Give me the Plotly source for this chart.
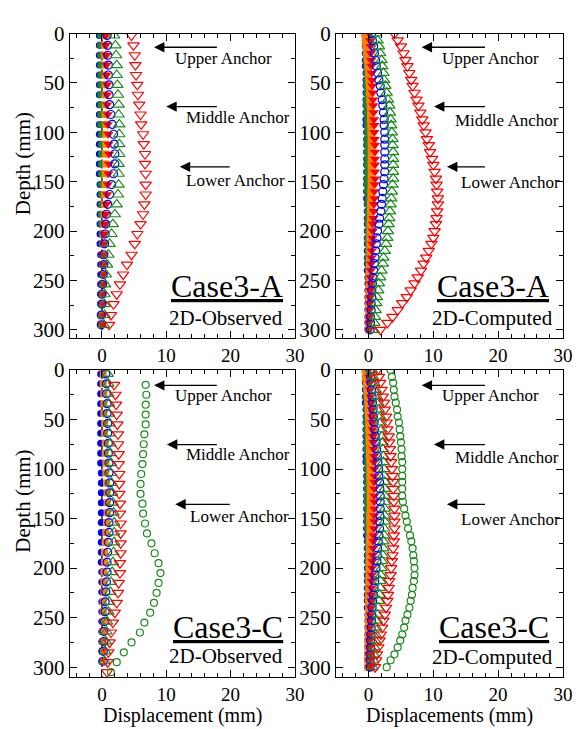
import plotly.graph_objects as go

# ---------------- data ----------------
depth_obs_A = [2, 12, 22, 32, 42, 52, 62, 72, 82, 92, 102, 112, 122, 132, 142,
               153, 163, 173, 183, 193, 203, 213, 224, 234, 244, 254, 264, 274, 285, 295]
depth_obs_C0 = [4, 14, 24, 34, 44, 54, 64, 74, 84, 94, 104, 114, 124, 134, 144,
                154, 164, 174, 184, 194, 204, 214, 224, 234, 244, 254, 264, 274, 284, 294]
depth_obs_C1 = [15, 25, 35, 45, 55, 65, 75, 85, 95, 105, 115, 125, 135, 145, 155,
                165, 175, 185, 195, 205, 215, 225, 235, 245, 255, 265, 275, 285, 295, 305]
depth_comp = [0, 7, 13, 20, 27, 33, 40, 47, 53, 60, 67, 73, 80, 87, 93, 100, 107, 113,
              120, 127, 133, 140, 147, 153, 160, 167, 173, 180, 187, 193, 200, 207, 213,
              220, 227, 233, 240, 247, 253, 260, 267, 273, 280, 287, 293, 300]

# Case3-A observed
A_obs_blue_fill = [-0.4, -0.4, -0.4, -0.4, -0.4, -0.4, -0.4, -0.4, -0.4, -0.4, -0.4, -0.4, -0.4, -0.4, -0.4,
                   -0.3, -0.3, -0.3, -0.3, -0.3, -0.3, -0.3, -0.2, -0.2, -0.2, -0.2, -0.2, -0.2, -0.2, -0.2]
A_obs_green_fill = [-0.2, -0.2, -0.2, -0.2, -0.2, -0.2, -0.2, -0.2, -0.2, -0.2, -0.1, -0.1, -0.1, -0.1, -0.1,
                    -0.1, -0.1, -0.1, -0.1, -0.1, 0.0, 0.0, 0.0, 0.0, 0.0, 0.0, 0.0, 0.0, 0.0, 0.0]
A_obs_orange = [0.4, 0.4, 0.4, 0.5, 0.5, 0.5, 0.5, 0.5, 0.5, 0.6, 0.6, 0.6, 0.6, 0.6, 0.5,
                0.5, 0.4, 0.4, 0.3, 0.3, 0.2, 0.2, 0.2, 0.1, 0.1, 0.1, 0.0, 0.0, 0.0, 0.0]
A_obs_red_fill = [0.6, 0.6, 0.7, 0.7, 0.7, 0.8, 0.8, 0.8, 0.9, 0.9, 1.0, 1.0, 1.1, 1.1, 1.0,
                  0.9, 0.8, 0.7, 0.6, 0.5, 0.4, 0.4, 0.3, 0.3, 0.2, 0.2, 0.1, 0.1, 0.1, 0.0]
A_obs_blue_open = [0.8, 0.9, 0.9, 1.0, 1.0, 1.1, 1.1, 1.2, 1.4, 1.6, 1.8, 1.9, 2.0, 2.0, 1.8,
                   1.5, 1.2, 0.9, 0.7, 0.6, 0.5, 0.4, 0.3, 0.3, 0.2, 0.1, 0.0, 0.0, -0.1, -0.1]
A_obs_green_tri = [1.9, 2.1, 2.2, 2.3, 2.3, 2.4, 2.5, 2.6, 2.6, 2.7, 2.7, 2.7, 2.7, 2.6, 2.6,
                   2.6, 2.5, 2.3, 2.0, 1.7, 1.5, 1.2, 1.0, 0.8, 0.6, 0.5, 0.4, 0.4, 0.4, 0.3]
A_obs_red_tri = [4.6, 4.9, 5.1, 5.2, 5.3, 5.5, 5.6, 5.8, 6.0, 6.1, 6.4, 6.5, 6.7, 6.7, 6.8,
                 6.8, 6.8, 6.6, 6.4, 6.0, 5.5, 5.1, 4.6, 3.9, 3.3, 2.8, 2.3, 1.8, 1.4, 1.1]

# Case3-A computed
A_comp_blue_fill = [-0.5, -0.5, -0.5, -0.5, -0.5, -0.5, -0.4, -0.4, -0.4, -0.4, -0.4, -0.4, -0.4, -0.4, -0.4, -0.3,
                    -0.3, -0.3, -0.3, -0.3, -0.3, -0.3, -0.3, -0.3, -0.3, -0.3, -0.2, -0.2, -0.2, -0.2, -0.2,
                    -0.2, -0.2, -0.2, -0.2, -0.2, -0.2, -0.1, -0.1, -0.1, -0.1, -0.1, -0.1, -0.1, -0.1, -0.1]
A_comp_green_fill = [-0.4, -0.4, -0.4, -0.4, -0.4, -0.3, -0.3, -0.3, -0.3, -0.3, -0.3, -0.3, -0.3, -0.2, -0.2, -0.2,
                     -0.2, -0.2, -0.2, -0.2, -0.2, -0.2, -0.2, -0.2, -0.2, -0.1, -0.1, -0.1, -0.1, -0.1, -0.1,
                     -0.1, -0.1, -0.1, -0.1, -0.1, 0.0, 0.0, 0.0, 0.0, 0.0, 0.0, 0.0, 0.0, 0.0, 0.0]
A_comp_orange = [-0.6, -0.5, -0.4, -0.3, -0.2, -0.1, 0.0, 0.05, 0.1, 0.15, 0.2, 0.25, 0.3, 0.3, 0.35, 0.35,
                 0.4, 0.4, 0.4, 0.4, 0.4, 0.4, 0.4, 0.4, 0.35, 0.35, 0.3, 0.3, 0.3, 0.25, 0.25,
                 0.2, 0.2, 0.2, 0.15, 0.15, 0.1, 0.1, 0.1, 0.05, 0.05, 0.0, 0.0, 0.0, 0.0, 0.0]
A_comp_red_fill = [0.2, 0.25, 0.3, 0.35, 0.4, 0.45, 0.5, 0.55, 0.6, 0.65, 0.7, 0.75, 0.8, 0.85, 0.9, 0.9,
                   0.95, 1.0, 1.0, 1.0, 1.0, 1.0, 1.0, 0.95, 0.9, 0.9, 0.85, 0.8, 0.75, 0.7, 0.65,
                   0.6, 0.55, 0.5, 0.45, 0.4, 0.35, 0.3, 0.3, 0.25, 0.2, 0.2, 0.15, 0.15, 0.1, 0.1]
A_comp_blue_open = [0.5, 0.6, 0.8, 0.9, 1.1, 1.2, 1.4, 1.6, 1.8, 1.9, 2.1, 2.2, 2.3, 2.4, 2.4, 2.5,
                    2.5, 2.5, 2.5, 2.5, 2.5, 2.5, 2.4, 2.3, 2.2, 2.1, 2.0, 1.9, 1.7, 1.6, 1.4,
                    1.3, 1.2, 1.1, 1.0, 0.9, 0.8, 0.7, 0.6, 0.5, 0.5, 0.4, 0.4, 0.3, 0.3, 0.25]
A_comp_green_tri = [1.2, 1.4, 1.6, 1.8, 2.0, 2.1, 2.3, 2.4, 2.6, 2.8, 3.0, 3.2, 3.3, 3.4, 3.5, 3.6,
                    3.7, 3.7, 3.8, 3.8, 3.8, 3.8, 3.8, 3.7, 3.6, 3.5, 3.4, 3.3, 3.2, 3.1, 3.0,
                    2.9, 2.7, 2.5, 2.3, 2.2, 2.0, 1.8, 1.6, 1.5, 1.3, 1.2, 1.1, 1.0, 0.9, 0.8]
A_comp_red_tri = [4.0, 4.5, 5.0, 5.4, 5.7, 6.0, 6.3, 6.6, 6.8, 7.1, 7.4, 7.7, 8.0, 8.3, 8.5, 8.8,
                  9.0, 9.3, 9.5, 9.8, 10.0, 10.2, 10.4, 10.5, 10.6, 10.7, 10.7, 10.6, 10.5, 10.4, 10.2,
                  10.0, 9.7, 9.3, 8.9, 8.5, 8.1, 7.6, 7.1, 6.5, 5.9, 5.2, 4.5, 3.7, 2.9, 1.8]

# Case3-C observed
C_obs_purple = [-0.2, -0.2, -0.2, -0.2, -0.2, -0.2, -0.2, -0.2, -0.2, -0.2, -0.2, -0.2, -0.2, -0.2, -0.2,
                -0.2, -0.2, -0.2, -0.2, -0.2, -0.2, -0.2, -0.2, -0.2, -0.2, -0.2, -0.2, -0.2, -0.2, -0.2]
C_obs_blue_fill = [-0.2, -0.2, -0.2, -0.2, -0.2, -0.2, -0.2, -0.2, -0.2, -0.2, -0.1, -0.1, -0.1, -0.1, -0.1,
                   -0.1, -0.1, -0.1, -0.1, -0.1, 0.0, 0.0, 0.0, 0.0, 0.0, 0.0, 0.0, 0.0, 0.0, 0.0]
C_obs_orange = [0.2, 0.2, 0.3, 0.3, 0.3, 0.4, 0.4, 0.5, 0.5, 0.6, 0.6, 0.7, 0.8, 0.8, 0.8,
                0.7, 0.6, 0.5, 0.4, 0.4, 0.3, 0.3, 0.3, 0.2, 0.2, 0.2, 0.1, 0.1, 0.1, 0.1]
C_obs_blue_open = [0.6, 0.7, 0.7, 0.8, 0.8, 0.9, 0.9, 1.0, 1.0, 1.1, 1.1, 1.2, 1.2, 1.2, 1.2,
                   1.1, 1.1, 1.0, 0.9, 0.8, 0.8, 0.7, 0.6, 0.5, 0.5, 0.4, 0.3, 0.3, 0.2, 0.2]
C_obs_green_tri = [0.9, 1.0, 1.0, 1.1, 1.1, 1.2, 1.2, 1.3, 1.3, 1.4, 1.4, 1.5, 1.6, 1.7, 1.8,
                   1.9, 1.9, 1.9, 1.8, 1.7, 1.6, 1.4, 1.3, 1.1, 1.0, 0.8, 0.7, 0.6, 0.5, 0.4]
C_obs_red_tri = [1.9, 2.1, 2.2, 2.3, 2.4, 2.5, 2.5, 2.6, 2.6, 2.7, 2.7, 2.7, 2.8, 2.8, 2.9,
                 2.9, 2.9, 2.9, 2.8, 2.8, 2.6, 2.5, 2.3, 2.0, 1.7, 1.4, 1.2, 1.0, 0.9, 0.8]
C_obs_green_circ = [6.8, 6.9, 6.8, 6.8, 6.8, 6.6, 6.5, 6.4, 6.3, 6.1, 6.0, 6.0, 6.3, 6.4, 6.7,
                    7.0, 7.7, 8.2, 8.8, 9.1, 8.8, 8.5, 8.1, 7.5, 6.6, 5.9, 4.6, 3.4, 2.3, 1.4]

# Case3-C computed
C_comp_blue_fill = [-0.5, -0.5, -0.5, -0.5, -0.5, -0.5, -0.4, -0.4, -0.4, -0.4, -0.4, -0.4, -0.4, -0.4, -0.4, -0.3,
                    -0.3, -0.3, -0.3, -0.3, -0.3, -0.3, -0.3, -0.3, -0.3, -0.3, -0.2, -0.2, -0.2, -0.2, -0.2,
                    -0.2, -0.2, -0.2, -0.2, -0.2, -0.2, -0.1, -0.1, -0.1, -0.1, -0.1, -0.1, -0.1, -0.1, -0.1]
C_comp_green_fill = [-0.4, -0.4, -0.4, -0.4, -0.4, -0.3, -0.3, -0.3, -0.3, -0.3, -0.3, -0.3, -0.3, -0.2, -0.2, -0.2,
                     -0.2, -0.2, -0.2, -0.2, -0.2, -0.2, -0.2, -0.2, -0.2, -0.1, -0.1, -0.1, -0.1, -0.1, -0.1,
                     -0.1, -0.1, -0.1, -0.1, -0.1, 0.0, 0.0, 0.0, 0.0, 0.0, 0.0, 0.0, 0.0, 0.0, 0.0]
C_comp_orange = [-0.55, -0.45, -0.35, -0.25, -0.15, -0.1, -0.05, 0.0, 0.05, 0.05, 0.1, 0.1, 0.15, 0.15, 0.2, 0.2,
                 0.2, 0.25, 0.25, 0.25, 0.25, 0.25, 0.2, 0.2, 0.2, 0.2, 0.15, 0.15, 0.15, 0.1, 0.1,
                 0.1, 0.05, 0.05, 0.05, 0.0, 0.0, 0.0, -0.05, -0.05, -0.05, -0.1, -0.1, -0.1, -0.1, -0.1]
C_comp_red_fill = [0.0, 0.1, 0.2, 0.25, 0.35, 0.45, 0.5, 0.55, 0.6, 0.65, 0.7, 0.75, 0.8, 0.85, 0.85, 0.9,
                   0.9, 0.9, 0.9, 0.9, 0.9, 0.9, 0.9, 0.9, 0.85, 0.8, 0.75, 0.7, 0.65, 0.6, 0.55,
                   0.5, 0.45, 0.45, 0.4, 0.4, 0.35, 0.3, 0.3, 0.25, 0.25, 0.2, 0.2, 0.15, 0.15, 0.15]
C_comp_blue_open = [0.25, 0.3, 0.4, 0.45, 0.55, 0.6, 0.7, 0.75, 0.85, 0.95, 1.05, 1.15, 1.25, 1.35, 1.45, 1.55,
                    1.6, 1.7, 1.75, 1.8, 1.8, 1.8, 1.75, 1.7, 1.7, 1.6, 1.5, 1.4, 1.35, 1.3, 1.15,
                    1.0, 0.95, 0.85, 0.75, 0.65, 0.55, 0.5, 0.45, 0.4, 0.35, 0.3, 0.3, 0.25, 0.25, 0.25]
C_comp_green_tri = [0.5, 0.7, 0.9, 1.1, 1.3, 1.5, 1.6, 1.8, 1.9, 2.0, 2.1, 2.2, 2.2, 2.3, 2.3, 2.4,
                    2.4, 2.5, 2.5, 2.5, 2.5, 2.5, 2.5, 2.5, 2.4, 2.4, 2.3, 2.3, 2.2, 2.1, 2.0,
                    1.9, 1.8, 1.8, 1.7, 1.6, 1.5, 1.4, 1.3, 1.2, 1.1, 1.0, 0.9, 0.8, 0.7, 0.6]
C_comp_red_tri = [1.4, 1.6, 1.8, 2.0, 2.2, 2.4, 2.5, 2.7, 2.8, 2.9, 3.1, 3.2, 3.3, 3.4, 3.5, 3.6,
                  3.7, 3.8, 3.8, 3.9, 3.9, 4.0, 4.0, 4.0, 4.0, 3.9, 3.9, 3.8, 3.7, 3.6, 3.5,
                  3.4, 3.2, 3.1, 3.0, 2.9, 2.7, 2.5, 2.3, 2.1, 1.9, 1.7, 1.5, 1.3, 1.2, 1.0]
C_comp_green_circ = [3.4, 3.6, 3.8, 3.9, 4.0, 4.2, 4.4, 4.5, 4.7, 4.8, 4.9, 5.0, 5.1, 5.1, 5.2, 5.2,
                     5.2, 5.2, 5.2, 5.2, 5.3, 5.5, 5.7, 5.9, 6.1, 6.4, 6.6, 6.8, 6.9, 7.0, 7.1,
                     7.1, 7.0, 6.8, 6.7, 6.5, 6.3, 6.0, 5.7, 5.5, 5.2, 4.9, 4.5, 4.0, 3.4, 2.8]

x_ticks = [0, 10, 20, 30]
y_ticks = [0, 50, 100, 150, 200, 250, 300]
anchor_labels = ["Upper Anchor", "Middle Anchor", "Lower Anchor"]
case_labels = ["Case3-A", "Case3-A", "Case3-C", "Case3-C"]
sub_labels = ["2D-Observed", "2D-Computed", "2D-Observed", "2D-Computed"]
x_titles = ["Displacement (mm)", "Displacements (mm)"]

# ---------------- styles ----------------
FONT = "Liberation Serif"
BLUE = "#0000FF"
GREEN = "#1A8A1A"
ORANGE = "#FF8000"
RED = "#FF0000"
PURPLE = "#A080D0"

STY = {
    "purple": dict(symbol="circle", size=5, color=PURPLE),
    "blue_fill": dict(symbol="circle", size=7, color=BLUE),
    "green_fill": dict(symbol="circle", size=7, color=GREEN),
    "orange": dict(symbol="square", size=7, color=ORANGE),
    "red_fill": dict(symbol="triangle-down", size=9, color=RED),
    "blue_open": dict(symbol="circle-open", size=8, color=BLUE, line=dict(width=1.2, color=BLUE)),
    "green_tri": dict(symbol="triangle-up-open", size=10, color=GREEN, line=dict(width=1.2, color=GREEN)),
    "red_tri": dict(symbol="triangle-down-open", size=10, color=RED, line=dict(width=1.2, color=RED)),
    "green_circ": dict(symbol="circle-open", size=7, color=GREEN, line=dict(width=1.2, color=GREEN)),
}

panels = [
    ("x", "y", [("blue_fill", A_obs_blue_fill, depth_obs_A), ("green_fill", A_obs_green_fill, depth_obs_A),
                ("orange", A_obs_orange, depth_obs_A), ("red_fill", A_obs_red_fill, depth_obs_A),
                ("blue_open", A_obs_blue_open, depth_obs_A), ("green_tri", A_obs_green_tri, depth_obs_A),
                ("red_tri", A_obs_red_tri, depth_obs_A)]),
    ("x2", "y2", [("blue_fill", A_comp_blue_fill, depth_comp), ("green_fill", A_comp_green_fill, depth_comp),
                  ("orange", A_comp_orange, depth_comp), ("red_fill", A_comp_red_fill, depth_comp),
                  ("blue_open", A_comp_blue_open, depth_comp), ("green_tri", A_comp_green_tri, depth_comp),
                  ("red_tri", A_comp_red_tri, depth_comp)]),
    ("x3", "y3", [("purple", C_obs_purple, depth_obs_C0), ("blue_fill", C_obs_blue_fill, depth_obs_C0),
                  ("orange", C_obs_orange, depth_obs_C0), ("blue_open", C_obs_blue_open, depth_obs_C0),
                  ("green_tri", C_obs_green_tri, depth_obs_C0), ("red_tri", C_obs_red_tri, depth_obs_C1),
                  ("green_circ", C_obs_green_circ, depth_obs_C1)]),
    ("x4", "y4", [("blue_fill", C_comp_blue_fill, depth_comp), ("green_fill", C_comp_green_fill, depth_comp),
                  ("orange", C_comp_orange, depth_comp), ("red_fill", C_comp_red_fill, depth_comp),
                  ("blue_open", C_comp_blue_open, depth_comp), ("green_tri", C_comp_green_tri, depth_comp),
                  ("red_tri", C_comp_red_tri, depth_comp), ("green_circ", C_comp_green_circ, depth_comp)]),
]

fig = go.Figure()
for xa, ya, series in panels:
    fig.add_trace(go.Scatter(x=[0, 0], y=[0, 310], mode="lines", xaxis=xa, yaxis=ya,
                             line=dict(color="black", width=1.3, dash="dash"), showlegend=False,
                             hoverinfo="skip"))
    for key, xs, ds in series:
        fig.add_trace(go.Scatter(x=xs, y=ds, mode="markers", xaxis=xa, yaxis=ya,
                                 marker=STY[key], showlegend=False))

# ---------------- axes ----------------
W, H = 585, 729
dom_x = [[71 / W, 300 / W], [342 / W, 572.7 / W]]
dom_y = [[1 - 333 / H, 1 - 22 / H], [1 - 680 / H, 1 - 366 / H]]
yranges = [[308, 0], [310, 0]]
TICKFONT = dict(family=FONT, size=19, color="black")


def xax(dom, anchor):
    return dict(domain=dom, anchor=anchor, range=[-5, 30], tickmode="array", tickvals=x_ticks,
                ticks="inside", ticklen=7, tickwidth=1, tickcolor="black",
                minor=dict(dtick=2, tick0=0, ticks="inside", ticklen=4, tickwidth=1, tickcolor="black"),
                showline=True, linecolor="black", linewidth=1.2, mirror="ticks",
                showgrid=False, zeroline=False, tickfont=TICKFONT)


def yax(dom, anchor, rng):
    return dict(domain=dom, anchor=anchor, range=rng, tickmode="array", tickvals=y_ticks,
                ticks="inside", ticklen=7, tickwidth=1, tickcolor="black",
                minor=dict(dtick=25, tick0=0, ticks="inside", ticklen=4, tickwidth=1, tickcolor="black"),
                showline=True, linecolor="black", linewidth=1.2, mirror="ticks",
                showgrid=False, zeroline=False, tickfont=dict(family=FONT, size=21, color="black"))


fig.update_layout(
    width=W, height=H, margin=dict(l=0, r=0, t=0, b=0),
    paper_bgcolor="white", plot_bgcolor="white", showlegend=False,
    font=dict(family=FONT, color="black"),
    xaxis=xax(dom_x[0], "y"), yaxis=yax(dom_y[0], "x", yranges[0]),
    xaxis2=xax(dom_x[1], "y2"), yaxis2=yax(dom_y[0], "x2", yranges[0]),
    xaxis3=xax(dom_x[0], "y3"), yaxis3=yax(dom_y[1], "x3", yranges[1]),
    xaxis4=xax(dom_x[1], "y4"), yaxis4=yax(dom_y[1], "x4", yranges[1]),
)

# ---------------- annotations ----------------
ann = []
for yc in [155, 500]:
    ann.append(dict(text="Depth (mm)", xref="paper", yref="paper", x=23 / W, y=1 - yc / H,
                    textangle=-90, showarrow=False, xanchor="center", yanchor="middle",
                    font=dict(family=FONT, size=21, color="black")))
for dx, title in zip(dom_x, x_titles):
    ann.append(dict(text=title, xref="paper", yref="paper", x=(dx[0] + dx[1]) / 2, y=1 - 719.5 / H,
                    showarrow=False, xanchor="center", yanchor="middle", borderpad=0,
                    font=dict(family=FONT, size=20, color="black")))

# anchors: (head x, tail x, arrow depth, text left x, text depth)
anchor_pos = [
    [(8.1, 18.1, 13.9, 11.0, 24.8), (10.0, 18.1, 74, 12.7, 85), (12.1, 20.1, 135, 12.7, 148.5)],
    [(8.2, 18.2, 13.9, 11.1, 24.8), (10.1, 18.2, 74, 13.1, 88), (12.1, 18.2, 135, 13.9, 150.5)],
    [(8.1, 18.1, 15.5, 11.0, 25.4), (10.1, 18.1, 75.3, 12.7, 85), (11.4, 20.1, 135.6, 13.4, 148)],
    [(8.2, 18.2, 15.5, 11.1, 25.4), (10.1, 18.2, 75.3, 13.1, 88.8), (12.1, 18.2, 135.6, 13.9, 151)],
]
case_pos = [((28.4, 256), (28.5, 288)), ((28.1, 256), (28.8, 288)),
            ((28.5, 259), (28.5, 289)), ((28.1, 259), (28.8, 290))]

for i, (xa, ya, _) in enumerate(panels):
    for label, (hx, tx, ay, lx, ly) in zip(anchor_labels, anchor_pos[i]):
        ann.append(dict(x=hx, y=ay, ax=tx, ay=ay, xref=xa, yref=ya, axref=xa, ayref=ya,
                        text="", showarrow=True, arrowhead=2, arrowsize=1.6, arrowwidth=1.3,
                        arrowcolor="black"))
        ann.append(dict(x=lx, y=ly, xref=xa, yref=ya, text=label, showarrow=False,
                        xanchor="left", yanchor="middle",
                        font=dict(family=FONT, size=17, color="black")))
    (cx, cy), (sx, sy) = case_pos[i]
    ann.append(dict(x=cx, y=cy, xref=xa, yref=ya, text="<u>" + case_labels[i] + "</u>",
                    showarrow=False, xanchor="right", yanchor="middle",
                    font=dict(family=FONT, size=32, color="black")))
    ann.append(dict(x=sx, y=sy, xref=xa, yref=ya, text=sub_labels[i], showarrow=False,
                    xanchor="right", yanchor="middle",
                    font=dict(family=FONT, size=21, color="black")))

fig.update_layout(annotations=ann)
fig.write_html("out.html")
